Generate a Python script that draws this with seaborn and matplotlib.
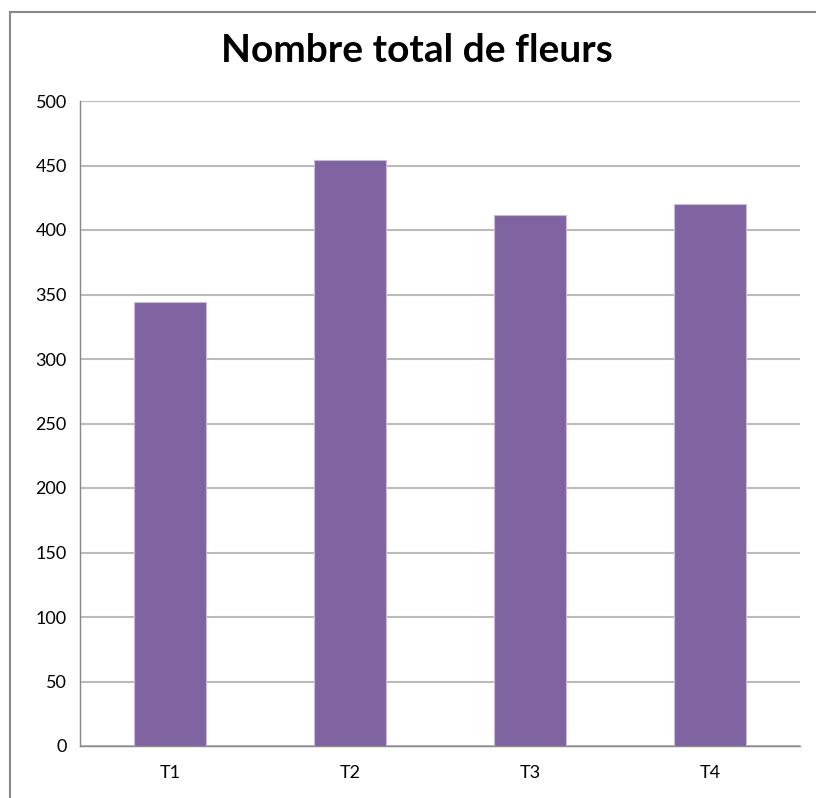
import matplotlib
matplotlib.use("Agg")
import matplotlib.pyplot as plt
import matplotlib.patches as mpatches
import seaborn as sns
import pandas as pd

# values
categories = ["T1", "T2", "T3", "T4"]
total_flowers = [344, 454, 412, 420]

df = pd.DataFrame({"traitement": categories, "fleurs": total_flowers})

sns.set_style("white")
plt.rcParams["font.family"] = ["Lato", "DejaVu Sans"]
plt.rcParams["text.color"] = "black"
plt.rcParams["xtick.labelcolor"] = "black"
plt.rcParams["ytick.labelcolor"] = "black"

fig = plt.figure(figsize=(8.16, 7.98), dpi=100)
ax = fig.add_axes([80 / 816, 1 - 746 / 798, 720 / 816, 645 / 798])

sns.barplot(data=df, x="traitement", y="fleurs", color="#8064A2", width=0.4,
            saturation=1, edgecolor="#C9BADB", linewidth=0.8, ax=ax, zorder=3)

ax.set_ylim(0, 500)
ax.set_xlim(-0.5, 3.5)
ax.set_yticks(range(0, 501, 50))
ax.yaxis.grid(True, color="#BBBBBB", linewidth=1.5, zorder=0)
ax.set_axisbelow(True)

# category boundaries as x ticks, labels in between
ax.set_xticks([-0.5, 0.5, 1.5, 2.5, 3.5])
ax.set_xticklabels([])
ax.set_xticks(range(len(categories)), minor=True)
ax.set_xticklabels(categories, minor=True)
ax.tick_params(axis="x", which="major", direction="out", length=7, color="#888888", width=1)
ax.tick_params(axis="x", which="minor", length=0, labelsize=13, pad=14)
ax.tick_params(axis="y", direction="out", length=6, color="#888888", width=1, labelsize=13)

for s in ["top", "right"]:
    ax.spines[s].set_visible(False)
ax.spines["left"].set_color("#888888")
ax.spines["bottom"].set_color("#888888")
ax.spines["left"].set_linewidth(1)
ax.spines["bottom"].set_linewidth(1)
ax.set_xlabel("")
ax.set_ylabel("")

fig.text(417 / 816, 1 - 50 / 798, "Nombre total de fleurs", ha="center", va="center",
         fontsize=28, fontweight="bold", color="black")

# chart frame (partly cut off on right and bottom)
frame = mpatches.Rectangle((10 / 816, -0.05), 1.05, 1 - 12 / 798 + 0.05,
                           transform=fig.transFigure, fill=False,
                           edgecolor="#888888", linewidth=1.5)
fig.patches.append(frame)

fig.savefig("out.png", dpi=100)
